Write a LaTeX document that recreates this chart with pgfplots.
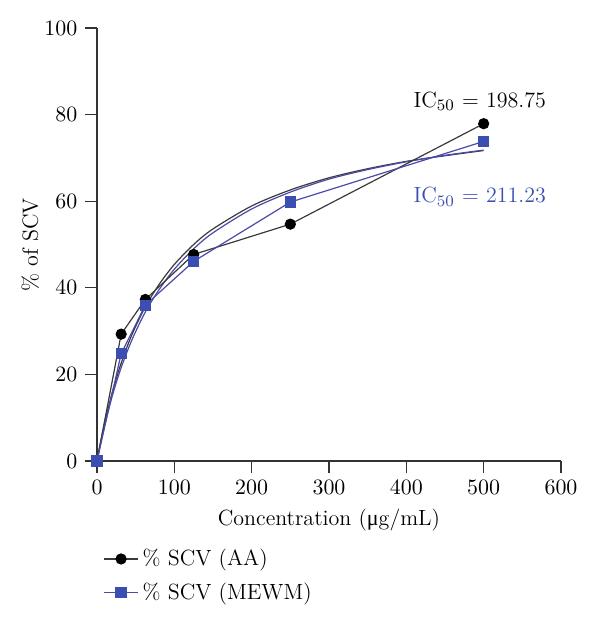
\documentclass[border=0pt]{standalone}
\usepackage{fontspec}
\usepackage{pgfplots}
\pgfplotsset{compat=1.18}
\newfontfamily\grk{Liberation Serif}
\definecolor{axisgray}{HTML}{333333}
\definecolor{mewm}{HTML}{3B4FB2}
\definecolor{mewmline}{HTML}{4A4AA8}
\definecolor{aaline}{HTML}{3A3A3A}

\begin{document}
\fontsize{11}{13}\selectfont
\begin{tikzpicture}
\begin{axis}[
  scale only axis, width=232pt, height=216.5pt,
  xmin=0, xmax=600, ymin=0, ymax=100,
  xtick={0,100,...,600}, ytick={0,20,...,100},
  axis x line*=bottom, axis y line*=left,
  axis line style={axisgray, line width=0.6pt, -},
  tick style={axisgray, line width=0.6pt},
  tick align=outside, major tick length=6pt,
  tick label style={font=\fontsize{11}{13}\selectfont},
  clip=false,
  xlabel={Concentration ({\grk μ}g/mL)},
  ylabel={\% of SCV},
  label style={font=\fontsize{11}{13}\selectfont},
  xlabel style={at={(axis description cs:0.5,-0.136)}, anchor=center},
  ylabel style={at={(axis description cs:-0.144,0.5)}, anchor=center},
  legend style={at={(axis description cs:0.0,-0.184)}, anchor=north west,
    draw=none, fill=none, font=\fontsize{11}{13}\selectfont,
    row sep=3pt},
  legend cell align=left,
]
% fitted saturation curves
\addplot[aaline, smooth, line width=0.6pt, forget plot] coordinates {
  (0,0) (5,4.68) (10,8.86) (20,16.02) (31.25,22.6) (45,29.1) (62.5,35.6)
  (80,40.7) (100,45.4) (125,50.0) (150,53.6) (200,58.9) (250,62.6)
  (300,65.4) (350,67.5) (400,69.2) (450,70.5) (500,71.7)};
\addplot[mewmline, smooth, line width=0.6pt, forget plot] coordinates {
  (0,0) (5,4.38) (10,8.33) (20,15.18) (31.25,21.55) (45,27.9) (62.5,34.4)
  (80,39.5) (100,44.3) (125,49.0) (150,52.7) (200,58.2) (250,62.1)
  (300,65.1) (350,67.3) (400,69.1) (450,70.6) (500,71.8)};
% measured scavenging activity
\addplot[aaline, line width=0.6pt, mark=*, mark size=2.5pt,
  mark options={fill=black, draw=black}] coordinates {
  (0,0) (31.25,29.3) (62.5,37.3) (125,47.7) (250,54.7) (500,77.9)};
\addlegendentry{\% SCV (AA)}
\addplot[mewmline, line width=0.6pt, mark=square*, mark size=2.5pt,
  mark options={fill=mewm, draw=mewm}] coordinates {
  (0,0) (31.25,24.8) (62.5,36.0) (125,46.1) (250,59.8) (500,73.8)};
\addlegendentry{\% SCV (MEWM)}
\node[anchor=base, text=black] at (axis cs:495,81.7) {IC$_{50}$ = 198.75};
\node[anchor=base, text=mewm] at (axis cs:495,59.6) {IC$_{50}$ = 211.23};
\coordinate (bl) at (rel axis cs:0,0);
\coordinate (tr) at (rel axis cs:1,1);
\end{axis}
\path ([shift={(-48.5pt,-83pt)}]bl) rectangle ([shift={(19.5pt,14pt)}]tr);
\end{tikzpicture}
\end{document}
